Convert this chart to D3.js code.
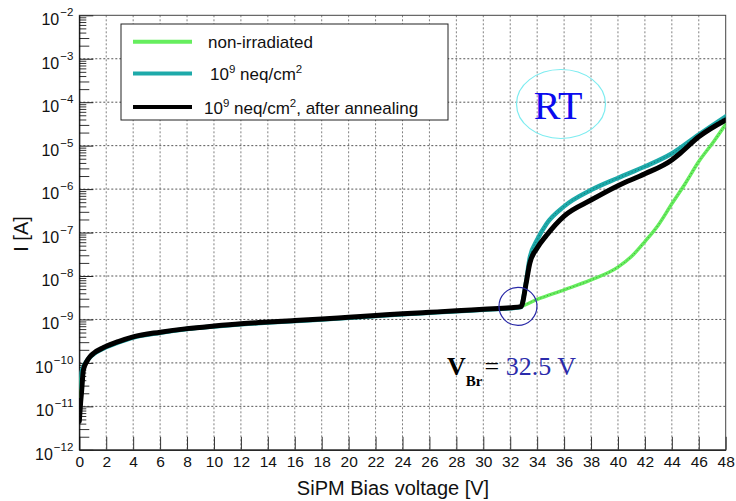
<!DOCTYPE html>
<html>
<head>
<meta charset="utf-8">
<script src="https://cdn.jsdelivr.net/npm/d3@7"></script>
<style>
  html, body { margin: 0; padding: 0; background: #fff; }
  svg { display: block; }
</style>
</head>
<body>
<svg id="chart" width="736" height="501"></svg>
<script>
// SiPM I–V curves at room temperature

// Bias voltage [V] and current [A] for each measurement
const voltsNonIrr = [0, 0.1, 0.3, 0.5, 0.8, 1.1, 1.8, 2.9, 4, 6, 8, 10, 12, 14, 16, 18, 20, 22, 24, 26, 28, 30, 32, 32.8,
  34, 36, 38, 40, 41, 42, 43, 44, 45, 46, 47.1, 48];
const currNonIrr = [1.7e-11, 4.0e-11, 7.5e-11, 1.0e-10, 1.35e-10, 1.65e-10, 2.2e-10, 3.0e-10, 3.9e-10, 5.0e-10, 6.05e-10, 6.95e-10, 7.8e-10, 8.55e-10, 9.3e-10, 1.0e-9, 1.1e-9, 1.21e-9, 1.32e-9, 1.43e-9, 1.55e-9, 1.69e-9, 1.83e-9, 2.0e-9,
  2.9e-9, 4.8e-9, 8.1e-9, 1.6e-8, 2.8e-8, 6.2e-8, 1.5e-7, 4.6e-7, 1.35e-6, 4.3e-6, 1.23e-5, 3.1e-5];

const voltsIrr = [0, 0.1, 0.3, 0.5, 0.8, 1.1, 1.8, 2.9, 4, 6, 8, 10, 12, 14, 16, 18, 20, 22, 24, 26, 28, 30, 32, 32.8,
  33.1, 33.45, 34, 34.7, 36, 38, 40, 42, 44, 46, 48];
const currIrr = [2.8e-11, 5.0e-11, 8.0e-11, 1.05e-10, 1.35e-10, 1.62e-10, 2.15e-10, 2.95e-10, 3.85e-10, 4.95e-10, 6.0e-10, 6.9e-10, 7.75e-10, 8.5e-10, 9.2e-10, 9.95e-10, 1.09e-9, 1.2e-9, 1.31e-9, 1.42e-9, 1.54e-9, 1.68e-9, 1.82e-9, 1.93e-9,
  5.0e-9, 2.6e-8, 6.8e-8, 1.6e-7, 4.0e-7, 9.5e-7, 1.8e-6, 3.3e-6, 6.6e-6, 1.8e-5, 4.7e-5];

const voltsAnneal = [0, 0.1, 0.18, 0.3, 0.55, 0.8, 1.1, 1.8, 2.9, 4, 6, 8, 10, 12, 14, 16, 18, 20, 22, 24, 26, 28, 30, 32, 32.8,
  33.2, 33.45, 34, 34.7, 36, 38, 40, 42, 44, 44.6, 46, 48];
const currAnneal = [4.5e-12, 1.25e-11, 2.4e-11, 6.9e-11, 1.07e-10, 1.4e-10, 1.7e-10, 2.25e-10, 3.1e-10, 3.98e-10, 5.1e-10, 6.15e-10, 7.05e-10, 7.94e-10, 8.7e-10, 9.44e-10, 1.02e-9, 1.12e-9, 1.23e-9, 1.35e-9, 1.46e-9, 1.58e-9, 1.72e-9, 1.86e-9, 1.97e-9,
  7.4e-9, 1.95e-8, 4.4e-8, 8.7e-8, 2.4e-7, 5.6e-7, 1.2e-6, 2.25e-6, 4.7e-6, 6.6e-6, 1.6e-5, 3.9e-5];

const seriesNames = ["non-irradiated", "10^9 neq/cm^2", "10^9 neq/cm^2, after annealing"];
const seriesColors = ["#66ee5e", "#1eaaaa", "#000000"];
const seriesWidths = [3.5, 4.5, 5];

const xTicks = [0, 2, 4, 6, 8, 10, 12, 14, 16, 18, 20, 22, 24, 26, 28, 30, 32, 34, 36, 38, 40, 42, 44, 46, 48];
const yDecades = [-12, -11, -10, -9, -8, -7, -6, -5, -4, -3, -2];

const breakdownVoltage = 32.5;
const breakdownCurrent = 2.0e-9;

// ---- layout ----
const svg = d3.select("#chart");
const plot = { left: 79.3, right: 725.7, top: 15.3, bottom: 449.8 };

const x = d3.scaleLinear().domain([0, 48]).range([plot.left, plot.right]);
const y = d3.scaleLog().domain([1e-12, 1e-2]).range([plot.bottom, plot.top]);

const fontSans = "'Liberation Sans', Arial, Helvetica, sans-serif";
const fontSerif = "'Liberation Serif', 'Times New Roman', serif";

// ---- grid ----
const grid = svg.append("g");
grid.selectAll("line.gx").data(xTicks.slice(1, -1)).join("line")
  .attr("x1", d => x(d)).attr("x2", d => x(d))
  .attr("y1", plot.top).attr("y2", plot.bottom)
  .attr("stroke", "#808080").attr("stroke-width", 1).attr("stroke-dasharray", "2,2");
grid.selectAll("line.gy").data(yDecades.slice(1, -1)).join("line")
  .attr("x1", plot.left).attr("x2", plot.right)
  .attr("y1", d => y(Math.pow(10, d))).attr("y2", d => y(Math.pow(10, d)))
  .attr("stroke", "#555").attr("stroke-width", 1).attr("stroke-dasharray", "2,2");

// ---- frame ----
svg.append("rect")
  .attr("x", plot.left).attr("y", plot.top)
  .attr("width", plot.right - plot.left).attr("height", plot.bottom - plot.top)
  .attr("fill", "none").attr("stroke", "#444").attr("stroke-width", 1);

// ---- x axis (ticks point inward) ----
const xAxis = d3.axisBottom(x).tickValues(xTicks).tickSize(-13).tickSizeOuter(0).tickPadding(6)
  .tickFormat(d3.format("d"));
const gx = svg.append("g").attr("transform", `translate(0,${plot.bottom})`).call(xAxis);
gx.select(".domain").attr("stroke", "#000");
gx.selectAll(".tick line").attr("stroke", "#333");
gx.selectAll(".tick text").attr("font-family", fontSans).attr("font-size", 15.5).attr("fill", "#111");

// ---- y axis (log, inward ticks) ----
const minorVals = [];
yDecades.slice(0, -1).forEach(e => { for (let m = 2; m <= 9; m++) minorVals.push(m * Math.pow(10, e)); });
const yMinor = d3.axisLeft(y).tickValues(minorVals).tickSize(-7).tickSizeOuter(0).tickFormat("");
const gyMinor = svg.append("g").attr("transform", `translate(${plot.left},0)`).call(yMinor);
gyMinor.select(".domain").remove();
gyMinor.selectAll(".tick line").attr("stroke", "#333")
  .attr("x2", d => { const m = Math.round(d / Math.pow(10, Math.floor(Math.log10(d) + 1e-9))); return m <= 3 ? 10 : 7; });

const yAxis = d3.axisLeft(y).tickValues(yDecades.map(e => Math.pow(10, e))).tickSize(-14).tickSizeOuter(0).tickFormat("");
const gy = svg.append("g").attr("transform", `translate(${plot.left},0)`).call(yAxis);
gy.select(".domain").attr("stroke", "#000");
gy.selectAll(".tick line").attr("stroke", "#222");
gy.selectAll(".tick").each(function (d) {
  const exp = Math.round(Math.log10(d));
  const t = d3.select(this).append("text")
    .attr("x", -6).attr("y", 9.5)
    .attr("text-anchor", "end")
    .attr("font-family", fontSans).attr("font-size", 16).attr("fill", "#111");
  t.append("tspan").text("10");
  t.append("tspan").attr("dy", -9).attr("dx", 1).attr("font-size", 11.5).text("\u2212" + Math.abs(exp));
});

// ---- axis titles ----
svg.append("text")
  .attr("x", 393).attr("y", 495)
  .attr("text-anchor", "middle")
  .attr("font-family", fontSans).attr("font-size", 20).attr("fill", "#111")
  .text("SiPM Bias voltage [V]");
svg.append("text")
  .attr("transform", "translate(28,234) rotate(-90)")
  .attr("text-anchor", "middle")
  .attr("font-family", fontSans).attr("font-size", 20).attr("fill", "#111")
  .text("I [A]");

// ---- curves ----
const curves = [
  { v: voltsNonIrr, i: currNonIrr },
  { v: voltsIrr, i: currIrr },
  { v: voltsAnneal, i: currAnneal }
];
const line = d3.line().x(d => x(d[0])).y(d => y(d[1])).curve(d3.curveMonotoneX);
svg.append("clipPath").attr("id", "plotclip").append("rect")
  .attr("x", plot.left).attr("y", plot.top)
  .attr("width", plot.right - plot.left).attr("height", plot.bottom - plot.top);
const gCurves = svg.append("g").attr("clip-path", "url(#plotclip)");
curves.forEach((c, k) => {
  const pts = c.v.map((v, j) => [v, c.i[j]]);
  gCurves.append("path").datum(pts)
    .attr("d", line)
    .attr("fill", "none")
    .attr("stroke", seriesColors[k])
    .attr("stroke-width", seriesWidths[k])
    .attr("stroke-linejoin", "round")
    .attr("stroke-linecap", "round");
  if (k < 2) {
    // fine marker trace along the coloured graphs
    gCurves.append("path").datum(pts.filter(p => p[0] > 32.5))
      .attr("d", line)
      .attr("fill", "none")
      .attr("stroke", "rgba(0,0,0,0.45)")
      .attr("stroke-width", 0.8)
      .attr("stroke-dasharray", "1,2.5");
  }
});

// ---- legend ----
const legend = svg.append("g");
legend.append("rect")
  .attr("x", 121).attr("y", 24).attr("width", 327).attr("height", 96)
  .attr("fill", "#fff").attr("stroke", "#222").attr("stroke-width", 1);
const rowsY = [41.7, 73.5, 107];
const textX = [208, 210, 204];
seriesNames.forEach((name, k) => {
  legend.append("line")
    .attr("x1", 133).attr("x2", 192)
    .attr("y1", rowsY[k]).attr("y2", rowsY[k])
    .attr("stroke", seriesColors[k]).attr("stroke-width", 4);
  const t = legend.append("text")
    .attr("x", textX[k]).attr("y", rowsY[k] + 6.5)
    .attr("font-family", fontSans).attr("font-size", 17).attr("fill", "#111");
  // "a^b" pieces become superscripts; the next piece drops back to the baseline
  const parts = name.split(/(\^\d)/).filter(p => p.length);
  let raised = false;
  parts.forEach(p => {
    if (p.startsWith("^")) {
      t.append("tspan").attr("dy", -7).attr("font-size", 11.5).text(p.slice(1));
      raised = true;
    } else {
      const s = t.append("tspan").text(p);
      if (raised) { s.attr("dy", 7); raised = false; }
    }
  });
});

// ---- annotations ----
svg.append("ellipse")
  .attr("cx", 561).attr("cy", 104).attr("rx", 44.5).attr("ry", 34.5)
  .attr("fill", "none").attr("stroke", "#7cecf0").attr("stroke-width", 1.2);
svg.append("text")
  .attr("x", 558).attr("y", 119)
  .attr("text-anchor", "middle")
  .attr("font-family", fontSerif).attr("font-size", 40).attr("fill", "#0a0aee")
  .text("RT");

svg.append("circle")
  .attr("cx", x(breakdownVoltage) + 1).attr("cy", y(breakdownCurrent))
  .attr("r", 19)
  .attr("fill", "none").attr("stroke", "#2a2aa8").attr("stroke-width", 1.2);

const vbr = svg.append("text")
  .attr("x", 447).attr("y", 375)
  .attr("font-family", fontSerif).attr("font-size", 26).attr("fill", "#000");
vbr.append("tspan").attr("font-weight", "bold").text("V");
vbr.append("tspan").attr("font-weight", "bold").attr("font-size", 15).attr("dy", 11).text("Br");
vbr.append("tspan").attr("dy", -11).attr("dx", 2).text("=");
vbr.append("tspan").attr("fill", "#2b2bab").text(" " + breakdownVoltage + " V");
</script>
</body>
</html>
